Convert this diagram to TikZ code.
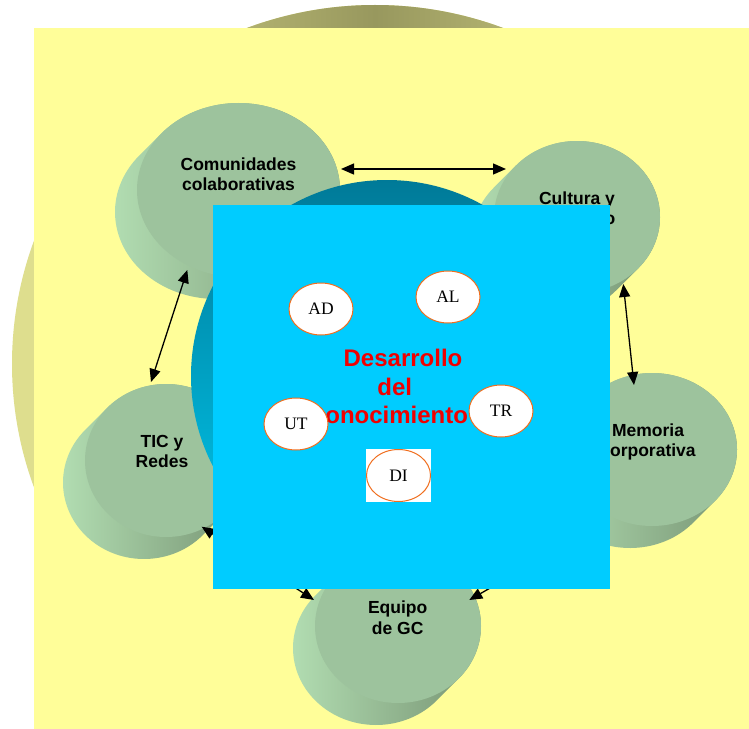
\documentclass[tikz,border=0pt]{standalone}
\usepackage{fontspec}
\setmainfont{Liberation Serif}
\newfontfamily\sansarial{Liberation Sans}
\usetikzlibrary{shapes.geometric,arrows.meta}

\definecolor{fondo}{RGB}{255,254,153}
\definecolor{oliva}{RGB}{152,152,94}
\definecolor{olivaclaro}{RGB}{222,222,142}
\definecolor{caraverde}{RGB}{157,195,157}
\definecolor{ladoclaro}{RGB}{180,224,180}
\definecolor{ladooscuro}{RGB}{116,144,112}
\definecolor{azul}{RGB}{0,204,255}
\definecolor{tealosc}{RGB}{0,122,152}
\definecolor{tealcla}{RGB}{0,200,238}
\definecolor{naranja}{RGB}{240,110,30}
\definecolor{rojo}{RGB}{240,0,0}

% disco verde: centro, radio x, radio y
\newcommand{\disco}[3]{%
  \pgfmathsetmacro{\tga}{atan(#3/#2)}
  \pgfmathsetmacro{\tgb}{\tga+180}
  \pgfmathsetmacro{\tgc}{\tga-180}
  \shade[left color=ladoclaro, right color=ladooscuro] (#1) ++(\tgb:#2 and #3) -- ++(-22,22)
    arc[start angle=\tgb, end angle=\tga, x radius=#2, y radius=#3] -- ++(22,-22)
    arc[start angle=\tga, end angle=\tgc, x radius=#2, y radius=#3] -- cycle;
  \fill[caraverde] (#1) ellipse [x radius=#2, y radius=#3];
}

\begin{document}
\begin{tikzpicture}[x=1bp,y=-1bp]
\tikzstyle{etiq}=[font={\sansarial\bfseries\fontsize{17.5bp}{20.3bp}\selectfont}, align=center, inner sep=0pt, text=black]
\tikzstyle{titulo}=[font={\sansarial\bfseries\fontsize{24bp}{28bp}\selectfont}, text=rojo, inner sep=0pt, anchor=base]
\tikzstyle{bola}=[ellipse, draw=naranja, line width=1bp, fill=white, minimum width=64bp, minimum height=52bp, inner sep=0pt, font=\fontsize{17.5bp}{20bp}\selectfont]
\tikzstyle{flecha}=[{Triangle[length=13bp,width=11bp]}-{Triangle[length=13bp,width=11bp]}, line width=1.3bp]

\useasboundingbox (0,0) rectangle (749,729);
\fill[white] (0,0) rectangle (749,729);

% fondo
\fill[olivaclaro] (375,364) ellipse [x radius=363, y radius=359];
\begin{scope}
  \clip (0,0) rectangle (749,40);
  \shade[left color=olivaclaro, right color=olivaclaro, middle color=oliva] (375,364) ellipse [x radius=363, y radius=359];
\end{scope}
\fill[fondo] (34,28) rectangle (749,729);

% discos
\disco{238.5,190}{101.5}{87}
\disco{577,217}{83}{76}
\disco{652,449.5}{85}{76.5}
\disco{166,460.5}{81}{76.5}
\disco{398,626}{83}{77}

\node[etiq] (comunidades) at (238.5,174) {Comunidades\\colaborativas};
\node[etiq] (cultura) at (577,210) {Cultura y\\liderazgo};
\node[etiq] (memoria) at (648,442.3) {Memoria\\corporativa};
\node[etiq] (tic) at (162,451.8) {TIC y\\Redes};
\node[etiq] (equipo) at (397.7,617.6) {Equipo\\de GC};

% esfera central
\shade[top color=tealosc, bottom color=tealcla] (387,376) circle [radius=196];

% flechas
\coordinate (comR) at (341,169);
\coordinate (culL) at (506,169);
\coordinate (comB) at (187.3,270);
\coordinate (ticT) at (151,382);
\coordinate (culB) at (623.3,284);
\coordinate (memT) at (634,385);
\coordinate (ticB) at (201.7,526.7);
\coordinate (equL) at (314,600);
\coordinate (memB) at (596,527);
\coordinate (equR) at (469.3,600);
\draw[flecha] (comR) -- (culL);
\draw[flecha] (comB) -- (ticT);
\draw[flecha] (culB) -- (memT);
\draw[flecha] (ticB) -- (equL);
\draw[flecha] (memB) -- (equR);

% cuadro azul
\fill[azul] (213,205) rectangle (610,589);

\node[titulo] (desarrollo) at (403,366.7) {Desarrollo};
\node[titulo] (del) at (394.7,395) {del};
\node[titulo] (conocimiento) at (390,423) {conocimiento};

\fill[white] (366,449) rectangle (431,502);
\node[bola] (AD) at (321,309) {AD};
\node[bola] (AL) at (448,297) {AL};
\node[bola] (UT) at (296,424) {UT};
\node[bola] (TR) at (501,411) {TR};
\node[bola] (DI) at (398.5,475.5) {DI};

\end{tikzpicture}
\end{document}
